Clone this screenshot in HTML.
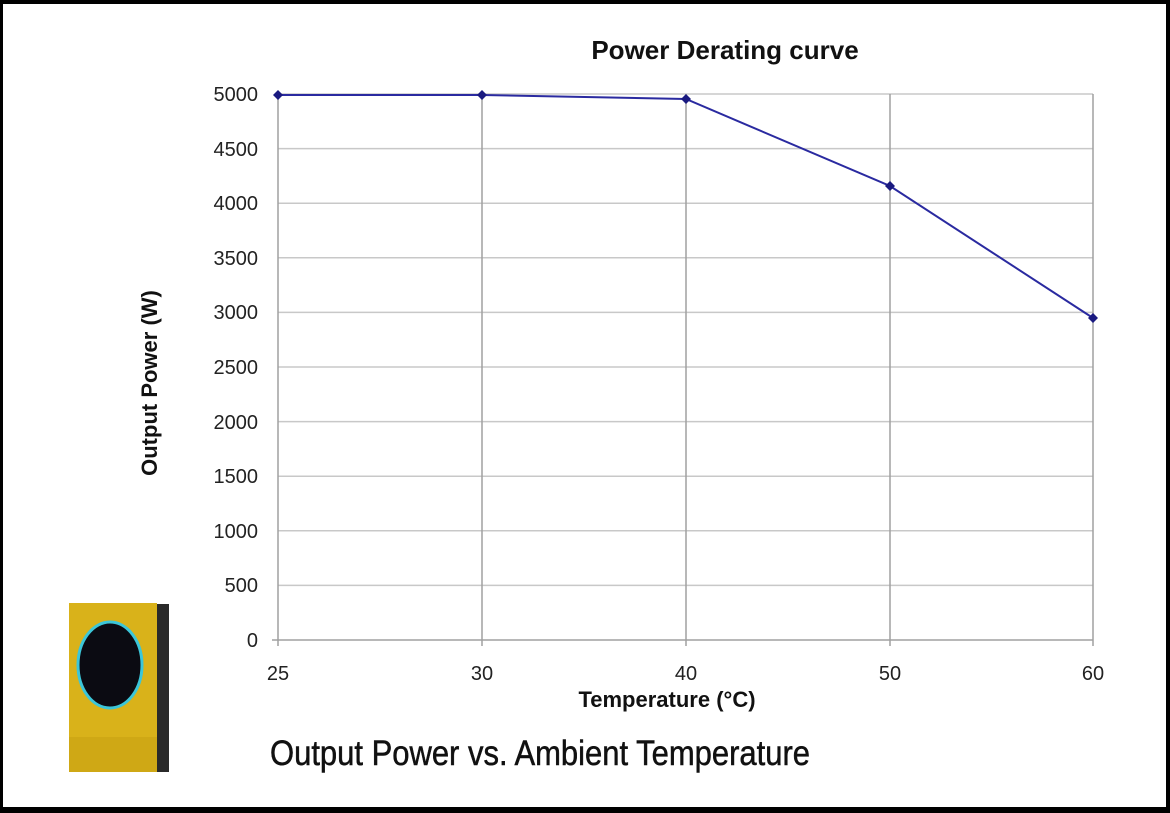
<!DOCTYPE html>
<html><head><meta charset="utf-8"><style>
html,body{margin:0;padding:0;background:#fff;}
body{width:1170px;height:813px;overflow:hidden;position:relative;}
</style></head><body>
<svg width="1170" height="813" xmlns="http://www.w3.org/2000/svg" style="position:absolute;left:0;top:0">
<rect x="0" y="0" width="1170" height="813" fill="#000"/>
<rect x="3" y="4" width="1163" height="803" fill="#fff"/>
<g stroke="#c8c8c8" stroke-width="1.5">
<line x1="278" y1="94" x2="1093" y2="94"/>
<line x1="278" y1="148.6" x2="1093" y2="148.6"/>
<line x1="278" y1="203.2" x2="1093" y2="203.2"/>
<line x1="278" y1="257.8" x2="1093" y2="257.8"/>
<line x1="278" y1="312.4" x2="1093" y2="312.4"/>
<line x1="278" y1="367" x2="1093" y2="367"/>
<line x1="278" y1="421.6" x2="1093" y2="421.6"/>
<line x1="278" y1="476.2" x2="1093" y2="476.2"/>
<line x1="278" y1="530.8" x2="1093" y2="530.8"/>
<line x1="278" y1="585.4" x2="1093" y2="585.4"/>
</g>
<g stroke="#a0a0a0" stroke-width="1.5">
<line x1="482" y1="94" x2="482" y2="646"/>
<line x1="686" y1="94" x2="686" y2="646"/>
<line x1="890" y1="94" x2="890" y2="646"/>
<line x1="1093" y1="94" x2="1093" y2="646"/>
<line x1="278" y1="94" x2="278" y2="646"/>
<line x1="272" y1="640" x2="1093" y2="640"/>
</g>
<polyline points="278,95 482,95 686,99 890,186 1093,318" fill="none" stroke="#2a2aa0" stroke-width="2"/>
<g fill="#1a1a80">
<polygon points="278,90 283,95 278,100 273,95"/>
<polygon points="482,90 487,95 482,100 477,95"/>
<polygon points="686,94 691,99 686,104 681,99"/>
<polygon points="890,181 895,186 890,191 885,186"/>
<polygon points="1093,313 1098,318 1093,323 1088,318"/>
</g>
<g font-family="Liberation Sans, sans-serif" font-size="20" fill="#222" text-anchor="end">
<text x="258" y="101">5000</text>
<text x="258" y="156">4500</text>
<text x="258" y="210">4000</text>
<text x="258" y="265">3500</text>
<text x="258" y="319">3000</text>
<text x="258" y="374">2500</text>
<text x="258" y="429">2000</text>
<text x="258" y="483">1500</text>
<text x="258" y="538">1000</text>
<text x="258" y="592">500</text>
<text x="258" y="647">0</text>
</g>
<g font-family="Liberation Sans, sans-serif" font-size="20" fill="#222" text-anchor="middle">
<text x="278" y="680">25</text>
<text x="482" y="680">30</text>
<text x="686" y="680">40</text>
<text x="890" y="680">50</text>
<text x="1093" y="680">60</text>
</g>
<text x="667" y="707" font-family="Liberation Sans, sans-serif" font-size="22" font-weight="bold" fill="#111" text-anchor="middle">Temperature (°C)</text>
<text x="725" y="59" font-family="Liberation Sans, sans-serif" font-size="26" font-weight="bold" fill="#111" text-anchor="middle">Power Derating curve</text>
<text transform="translate(157,383) rotate(-90)" font-family="Liberation Sans, sans-serif" font-size="22" font-weight="bold" fill="#111" text-anchor="middle">Output Power (W)</text>
<text x="0" y="0" transform="translate(270,765) scale(0.8,1)" font-family="Liberation Sans, sans-serif" font-size="35" fill="#111" stroke="#111" stroke-width="0.5" textLength="675" lengthAdjust="spacingAndGlyphs">Output Power vs. Ambient Temperature</text>
<!-- inverter -->
<rect x="155" y="604" width="14" height="168" fill="#2a2a2a"/>
<rect x="69" y="603" width="88" height="169" fill="#d9b21a"/>
<rect x="69" y="737" width="88" height="35" fill="#cfa815"/>
<ellipse cx="110" cy="665" rx="32" ry="43" fill="#0b0b12" stroke="#3cc6d8" stroke-width="3"/>
</svg>
</body></html>
